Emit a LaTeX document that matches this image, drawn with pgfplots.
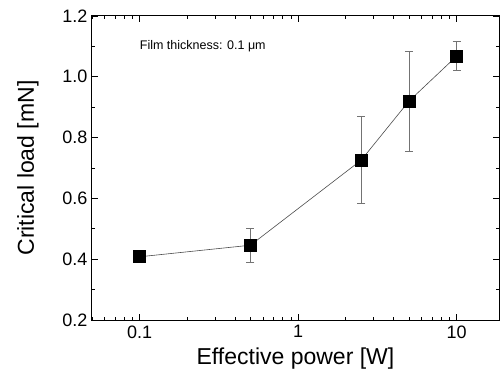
\documentclass[border=0pt]{standalone}
\usepackage{pgfplots}
\pgfplotsset{compat=1.18}
\usepackage{fontspec}
\setmainfont{Liberation Sans}
\begin{document}
\begin{tikzpicture}
\begin{axis}[
  scale only axis,
  width=407pt, height=304pt,
  xmode=log,
  xmin=0.05, xmax=18.5,
  ymin=0.2, ymax=1.2,
  ytick={0.2,0.4,0.6,0.8,1.0,1.2},
  minor ytick={0.3,0.5,0.7,0.9,1.1},
  yticklabel style={/pgf/number format/fixed,/pgf/number format/fixed zerofill,/pgf/number format/precision=1},
  xtick={0.1,1,10},
  xticklabels={0.1,1,10},
  minor xtick={0.05,0.06,0.07,0.08,0.09,0.2,0.3,0.4,0.5,0.6,0.7,0.8,0.9,2,3,4,5,6,7,8,9},
  tick align=inside,
  major tick length=6pt,
  minor tick length=3pt,
  tick style={black, line width=0.8pt},
  axis line style={line width=1pt},
  /pgf/number format/assume math mode=true,
  ticklabel style={font=\fontsize{18}{20}\selectfont},
  xticklabel style={yshift=-2pt},
  yticklabel style={xshift=-1pt},
  xlabel={Effective power [W]},
  ylabel={Critical load [mN]},
  label style={font=\fontsize{23}{26}\selectfont},
  xlabel style={yshift=-3pt},
  ylabel style={yshift=17pt},
]
\addplot[
  color=black!70, line width=0.6pt,
  mark=square*, mark size=6pt,
  mark options={fill=black, draw=black, solid},
  error bars/.cd, y dir=both, y explicit,
  error bar style={color=black!55, line width=0.8pt},
  error mark options={rotate=90, mark size=4pt, color=black!55, line width=0.8pt},
] coordinates {
  (0.1,0.408) +- (0,0.012)
  (0.5,0.446) +- (0,0.056)
  (2.5,0.726) +- (0,0.143)
  (5,0.920) +- (0,0.164)
  (10,1.068) +- (0,0.048)
};
\node[anchor=west, font=\fontsize{12.5}{14}\selectfont, inner sep=0pt] at (axis cs:0.1,1.1) {Film thickness: 0.1 μm};
\end{axis}
\pgfresetboundingbox
\useasboundingbox ([xshift=-92pt,yshift=-60pt]current axis.south west) rectangle ([xshift=3pt,yshift=16pt]current axis.north east);
\end{tikzpicture}
\end{document}
